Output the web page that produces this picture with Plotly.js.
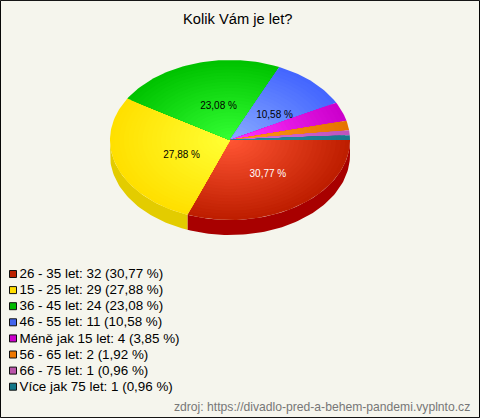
<!DOCTYPE html>
<html><head><meta charset="utf-8">
<script src="https://cdn.plot.ly/plotly-3.0.1.min.js"></script>
<style>html,body{margin:0;padding:0;background:#f5f5ed}</style></head>
<body><div id="c" style="width:480px;height:418px"></div>
<script>
const categories=["26 - 35 let","15 - 25 let","36 - 45 let","46 - 55 let","Méně jak 15 let","56 - 65 let","66 - 75 let","Více jak 75 let"];
const counts=[32,29,24,11,4,2,1,1];
const coreColors=[[255,85,51],[255,255,51],[51,255,51],[136,170,255],[255,51,255],[255,153,26],[214,115,214],[38,145,165]];
const rimColors=[[190,30,0],[255,224,0],[0,195,0],[68,102,255],[204,0,204],[230,115,0],[190,85,190],[26,120,140]];
const sideColors=["#a80000","#e3cc00","#009900","#3355cc","#aa00aa","#c06000","#995599","#156070"];
const swatchColors=["#bb2200","#ffdd00","#00bb00","#4466ee","#cc00cc","#ee7700","#bb55aa","#117788"];
const labelColors=["#ffffff","#000000","#000000","#000000"];
const title="Kolik Vám je let?";
const source="zdroj: https://divadlo-pred-a-behem-pandemi.vyplnto.cz";

const cx=230,cy=140,rx=120,ry=80,depth=15,bands=26;
const total=counts.reduce((a,b)=>a+b,0);
const pct=counts.map(c=>(100*c/total).toFixed(2).replace('.',','));
const rad=d=>d*Math.PI/180;
let start=0;
const spans=counts.map(c=>{const s=[start,start+360*c/total];start=s[1];return s;});
function arc(a,b,sc,dy){const n=Math.max(2,Math.ceil((b-a)/1.5));const xs=[],ys=[];
 for(let i=0;i<=n;i++){const t=rad(a+(b-a)*i/n);xs.push(cx+rx*sc*Math.cos(t));ys.push(cy+dy+ry*sc*Math.sin(t));}
 return [xs,ys];}
const base={type:'scatter',mode:'lines',fill:'toself',line:{width:0},hoverinfo:'skip',showlegend:false};
const traces=[];
spans.forEach((s,i)=>{
 if(s[0]>=180)return;
 const b=Math.min(s[1],180);
 const [x1,y1]=arc(s[0],b,1,0),[x2,y2]=arc(s[0],b,1,depth);
 traces.push({...base,x:x1.concat(x2.reverse()),y:y1.concat(y2.reverse()),fillcolor:sideColors[i]});
});
spans.forEach((s,i)=>{
 for(let k=0;k<bands;k++){
  const sc=1-k/bands,t=k/(bands-1);
  const col=rimColors[i].map((v,j)=>Math.round(v+(coreColors[i][j]-v)*t));
  const [x,y]=arc(s[0],s[1],sc,0);
  traces.push({...base,x:[cx].concat(x,[cx]),y:[cy].concat(y,[cy]),fillcolor:`rgb(${col})`});
 }
});
const big=counts.map((c,i)=>i).filter(i=>100*counts[i]/total>=10);
traces.push({type:'scatter',mode:'text',hoverinfo:'skip',showlegend:false,
 x:big.map(i=>cx+5.5+0.475*rx*Math.cos(rad((spans[i][0]+spans[i][1])/2))),
 y:big.map(i=>cy+3+0.475*ry*Math.sin(rad((spans[i][0]+spans[i][1])/2))),
 text:big.map(i=>pct[i]+' %'),textposition:'middle center',
 textfont:{family:'Liberation Sans, Arial',size:10,color:big.map(i=>labelColors[i])}});
traces.push({type:'scatter',mode:'markers',hoverinfo:'skip',showlegend:false,
 x:categories.map(()=>13),y:categories.map((c,i)=>274+16.1*i),
 marker:{symbol:'square',size:7,color:swatchColors,line:{color:'#111',width:1}}});
traces.push({type:'scatter',mode:'text',hoverinfo:'skip',showlegend:false,
 x:categories.map(()=>19.5),y:categories.map((c,i)=>274.8+16.1*i),
 text:categories.map((c,i)=>`${c}: ${counts[i]} (${pct[i]} %)`),textposition:'middle right',
 textfont:{family:'Liberation Sans, Arial',size:13.4,color:'#000'}});
const layout={width:480,height:418,margin:{l:0,r:0,t:0,b:0},paper_bgcolor:'#f5f5ed',plot_bgcolor:'#f5f5ed',
 xaxis:{range:[0,480],visible:false,fixedrange:true},yaxis:{range:[418,0],visible:false,fixedrange:true},
 shapes:[{type:'rect',xref:'paper',yref:'paper',x0:0.001,x1:0.999,y0:0.001,y1:0.999,line:{color:'#000',width:1},fillcolor:'rgba(0,0,0,0)'}],
 annotations:[
  {xref:'paper',yref:'paper',x:0.495,y:0.955,text:title,showarrow:false,xanchor:'center',yanchor:'middle',font:{family:'Liberation Sans, Arial',size:14.7,color:'#000'}},
  {xref:'paper',yref:'paper',x:0.984,y:0.0275,text:source,showarrow:false,xanchor:'right',yanchor:'middle',font:{family:'Liberation Sans, Arial',size:12.15,color:'#777'}}
 ]};
Plotly.newPlot('c',traces,layout,{staticPlot:true,displayModeBar:false});
</script></body></html>
